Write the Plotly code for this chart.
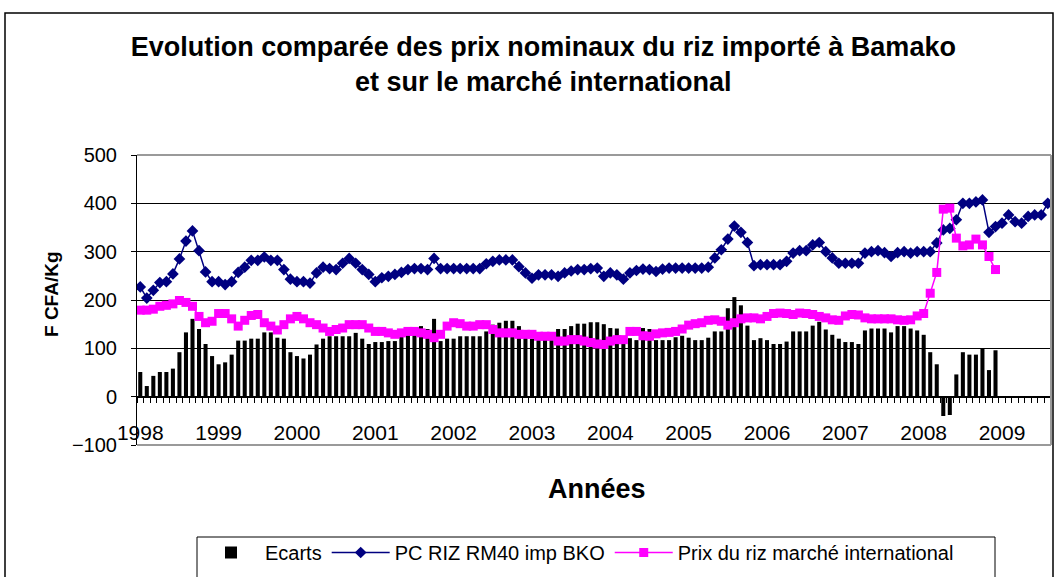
import plotly.graph_objects as go

# ---------------- data ----------------
years = ["1998", "1999", "2000", "2001", "2002", "2003", "2004", "2005", "2006", "2007", "2008", "2009"]

# PC RIZ RM40 imp BKO (monthly, Jan 1998 - Aug 2009)
pc_riz_bko = [
    227, 204, 220, 236, 238, 254, 285, 322, 343, 302, 258, 238,   # 1998
    238, 232, 238, 257, 268, 282, 282, 289, 282, 282, 263, 243,   # 1999
    238, 238, 235, 256, 268, 265, 263, 276, 286, 276, 263, 253,   # 2000
    238, 246, 249, 253, 257, 263, 265, 265, 263, 286, 265, 265,   # 2001
    265, 265, 265, 265, 265, 275, 280, 283, 283, 283, 269, 256,   # 2002
    245, 252, 252, 252, 249, 256, 260, 263, 263, 265, 266, 249,   # 2003
    256, 252, 243, 256, 261, 264, 263, 259, 264, 266, 266, 266,   # 2004
    266, 266, 266, 268, 287, 304, 326, 353, 340, 319, 271, 273,   # 2005
    273, 273, 273, 280, 297, 302, 302, 314, 319, 300, 287, 276,   # 2006
    276, 276, 276, 297, 300, 302, 298, 290, 298, 300, 297, 300,   # 2007
    300, 300, 318, 345, 348, 366, 400, 400, 403, 407, 340, 352,   # 2008
    359, 376, 362, 359, 373, 376, 376, 400,                       # 2009
]

# Prix du riz marché international (monthly, Jan 1998 - Dec 2008)
prix_international = [
    179, 179, 181, 187, 189, 192, 199, 195, 187, 166, 153, 156,   # 1998
    172, 172, 161, 146, 158, 168, 170, 153, 146, 138, 149, 161,   # 1999
    166, 161, 153, 149, 142, 135, 139, 142, 149, 149, 149, 142,   # 2000
    135, 135, 132, 129, 132, 135, 135, 132, 129, 122, 129, 146,   # 2001
    153, 151, 146, 146, 149, 149, 139, 132, 132, 132, 129, 129,   # 2002
    129, 125, 125, 125, 115, 115, 118, 118, 115, 112, 109, 108,   # 2003
    115, 118, 118, 135, 135, 126, 125, 130, 132, 133, 135, 140,   # 2004
    148, 151, 153, 158, 159, 156, 148, 153, 161, 163, 163, 161,   # 2005
    166, 172, 173, 172, 170, 173, 172, 170, 166, 163, 159, 158,   # 2006
    167, 170, 169, 163, 161, 161, 161, 161, 159, 158, 159, 167,   # 2007
    172, 214, 257, 388, 390, 328, 312, 314, 326, 314, 290, 263,   # 2008
]

# Ecarts (monthly, Jan 1998 - Dec 2008)
ecarts = [
    51, 22, 43, 51, 51, 58, 92, 133, 161, 140, 109, 84,           # 1998
    67, 71, 87, 116, 116, 120, 120, 133, 133, 122, 120, 92,       # 1999
    84, 79, 87, 108, 120, 125, 125, 125, 125, 132, 120, 109,      # 2000
    113, 113, 115, 115, 132, 135, 135, 146, 140, 161, 115, 120,   # 2001
    120, 125, 125, 125, 125, 135, 149, 153, 157, 157, 146, 125,   # 2002
    120, 125, 125, 125, 140, 140, 146, 151, 151, 154, 154, 150,   # 2003
    142, 141, 125, 121, 117, 142, 140, 117, 117, 117, 123, 126,   # 2004
    122, 117, 117, 122, 135, 135, 183, 206, 189, 147, 117, 121,   # 2005
    117, 109, 109, 114, 135, 135, 135, 147, 155, 139, 128, 120,   # 2006
    113, 113, 109, 137, 141, 141, 141, 133, 146, 146, 141, 137,   # 2007
    128, 92, 67, -40, -38, 46, 92, 87, 87, 100, 55, 96,           # 2008
]

# month labels used for hover; positions are the month index on the category axis
months = [f"{y}-{m:02d}" for y in range(1998, 2010) for m in range(1, 13)][:len(pc_riz_bko)]

FONT = "Liberation Sans, Arial, Helvetica, sans-serif"

# plot-area geometry in pixels (used only for placing text/frames in paper units)
W, H = 1055, 577
L, R, T, B = 137, 4, 155, 132
PW, PH = W - L - R, H - T - B


def px_x(px):
    return (px - L) / PW


def px_y(py):
    return (H - B - py) / PH


fig = go.Figure()

fig.add_trace(go.Bar(
    name="Ecarts",
    x=list(range(len(ecarts))),
    y=ecarts,
    customdata=months[:len(ecarts)],
    hovertemplate="%{customdata}: %{y}<extra>Ecarts</extra>",
    marker=dict(color="black", line=dict(width=0)),
    width=0.62,
))

fig.add_trace(go.Scatter(
    name="PC RIZ RM40 imp BKO",
    x=list(range(len(pc_riz_bko))),
    y=pc_riz_bko,
    customdata=months,
    hovertemplate="%{customdata}: %{y}<extra></extra>",
    mode="lines+markers",
    line=dict(color="#000080", width=1.5),
    marker=dict(symbol="diamond", size=9, color="#000080"),
))

fig.add_trace(go.Scatter(
    name="Prix du riz marché international",
    x=list(range(len(prix_international))),
    y=prix_international,
    customdata=months[:len(prix_international)],
    hovertemplate="%{customdata}: %{y}<extra></extra>",
    mode="lines+markers",
    line=dict(color="#FF00FF", width=1.5),
    marker=dict(symbol="square", size=9, color="#FF00FF"),
))

n_cat = len(pc_riz_bko)
year_pos = [12 * k for k in range(len(years))]

fig.update_layout(
    width=W,
    height=H,
    margin=dict(l=L, r=R, t=T, b=B, autoexpand=False),
    paper_bgcolor="white",
    plot_bgcolor="white",
    font=dict(family=FONT, color="black"),
    showlegend=True,
    title=dict(
        text="<b>Evolution comparée des prix nominaux du riz importé à Bamako<br>et sur le marché international</b>",
        font=dict(family=FONT, size=27, color="black"),
        x=0.515, xanchor="center",
        y=1 - 56 / H, yanchor="top",
    ),
    xaxis=dict(
        range=[-0.5, n_cat - 0.5],
        anchor="free",
        position=100 / 600,
        showline=True, linecolor="black", linewidth=1,
        showgrid=False, zeroline=False,
        tickmode="array", tickvals=year_pos, ticktext=years,
        ticks="outside", ticklen=17, tickcolor="rgba(0,0,0,0)",
        tickfont=dict(family=FONT, size=21, color="black"),
        minor=dict(
            tickmode="array",
            tickvals=[k - 0.5 for k in range(n_cat + 1)],
            ticks="outside", ticklen=5, tickwidth=1, tickcolor="black",
            showgrid=False,
        ),
        fixedrange=True,
    ),
    yaxis=dict(
        range=[-100, 500],
        tickmode="array", tickvals=[-100, 0, 100, 200, 300, 400, 500],
        showgrid=True, gridcolor="black", gridwidth=1,
        zeroline=False,
        showline=True, linecolor="black", linewidth=1,
        ticks="outside", ticklen=5, tickcolor="black",
        tickfont=dict(family=FONT, size=20, color="black"),
        ticklabelstandoff=10,
        fixedrange=True,
    ),
    legend=dict(
        orientation="h",
        x=px_x(197), xanchor="left",
        y=px_y(533), yanchor="top",
        borderwidth=0, bgcolor="rgba(0,0,0,0)",
        font=dict(family=FONT, size=20, color="black"),
        itemwidth=58,
        traceorder="normal",
    ),
    annotations=[
        dict(text="<b>Années</b>", xref="paper", yref="paper",
             x=px_x(597), y=px_y(489),
             xanchor="center", yanchor="middle", showarrow=False,
             font=dict(family=FONT, size=27, color="black")),
        dict(text="<b>F CFA/Kg</b>", xref="paper", yref="paper",
             x=px_x(51), y=px_y(294), textangle=-90,
             xanchor="center", yanchor="middle", showarrow=False,
             font=dict(family=FONT, size=19, color="black")),
    ],
    shapes=[
        # plot-area frame (top, right, bottom) in grey
        dict(type="line", xref="paper", yref="paper", x0=0, x1=1, y0=1, y1=1,
             line=dict(color="#9a9a9a", width=2), layer="above"),
        dict(type="line", xref="paper", yref="paper", x0=1, x1=1, y0=0, y1=1,
             line=dict(color="#9a9a9a", width=2), layer="above"),
        dict(type="line", xref="paper", yref="paper", x0=0, x1=1, y0=0, y1=0,
             line=dict(color="#9a9a9a", width=2), layer="above"),
        # legend frame
        dict(type="rect", xref="paper", yref="paper",
             x0=px_x(197), x1=px_x(995), y0=px_y(600), y1=px_y(537),
             line=dict(color="black", width=1), fillcolor="rgba(0,0,0,0)", layer="below"),
        # outer chart border
        dict(type="rect", xref="paper", yref="paper",
             x0=px_x(5), x1=px_x(1053), y0=px_y(620), y1=px_y(13),
             line=dict(color="black", width=1.5), fillcolor="rgba(0,0,0,0)", layer="above"),
    ],
)

fig.write_html("out.html", config={"displayModeBar": False},
               post_script="document.body.style.margin='0';")
